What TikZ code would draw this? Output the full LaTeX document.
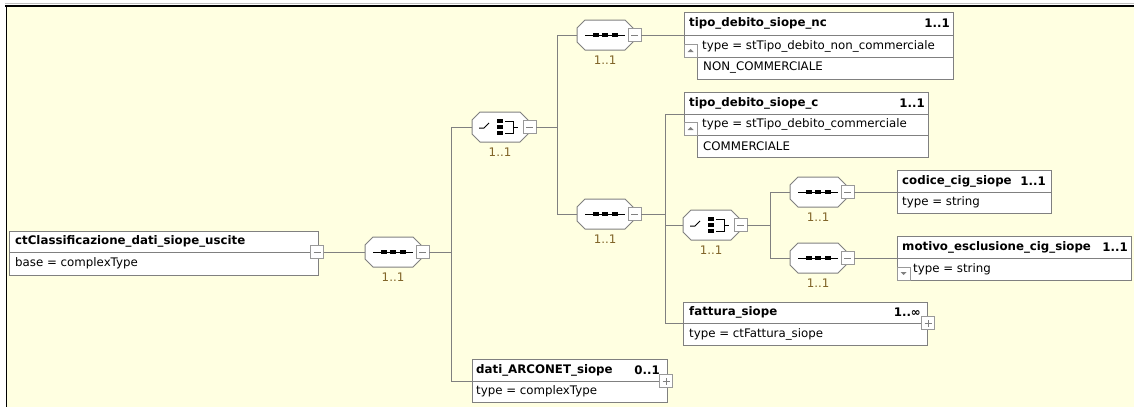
\documentclass[tikz,border=0pt]{standalone}
\usepackage{fontspec}
\setmainfont{DejaVu Sans}
\usetikzlibrary{positioning}

\definecolor{paper}{RGB}{255,255,225}
\definecolor{edge}{RGB}{128,128,128}
\definecolor{occ}{RGB}{128,100,40}
\newcommand\boxfont{\fontsize{11.8}{14}\selectfont}

\tikzset{
	wire/.style={draw=edge, line width=1pt},
	row/.style={rectangle, draw=edge, fill=white, line width=1pt, inner sep=0pt, outer sep=0pt, anchor=north west},
	title/.style={font=\boxfont\bfseries, anchor=west, inner sep=0pt},
	plain/.style={anchor=west, inner sep=0pt},
	mult/.style={font=\boxfont\bfseries, anchor=east, inner sep=0pt},
	occurs/.style={text=occ, inner sep=0pt},
	oct/.style={rectangle, fill=paper, minimum width=57pt, minimum height=31pt, inner sep=0pt, outer sep=0pt},
	octline/.style={edge, fill=white, line width=1pt},
	seqbox/.style={oct, path picture={
		\begin{scope}[shift={(path picture bounding box.center)}, x=1pt, y=1pt]
			\draw[octline] (-20,15) -- (20,15) -- (28,7) -- (28,-7) -- (20,-15) -- (-20,-15) -- (-28,-7) -- (-28,7) -- cycle;
			\draw[black, line width=1pt] (-20,0) -- (20,0);
			\foreach \dx in {-9.5,0,9.5} \fill[black] ({\dx-3},-2) rectangle ++(6,4);
		\end{scope}}},
	choicebox/.style={oct, path picture={
		\begin{scope}[shift={(path picture bounding box.center)}, x=1pt, y=1pt]
			\draw[octline] (-20,15) -- (20,15) -- (28,7) -- (28,-7) -- (20,-15) -- (-20,-15) -- (-28,-7) -- (-28,7) -- cycle;
			\draw[black, line width=1pt] (-21,-1) -- (-16,-1) -- (-11,4);
			\foreach \dy in {6,0,-6} \fill[black] (-3,{\dy-2}) rectangle ++(6,4);
			\draw[black, line width=1pt] (5,6) -- (13,6) -- (13,-6) -- (5,-6) (13,0) -- (18,0);
		\end{scope}}},
	smallbox/.style={rectangle, draw=edge!80, fill=white, line width=1pt, minimum size=13pt, inner sep=0pt, outer sep=0pt},
	fold/.style={smallbox, path picture={
		\begin{scope}[shift={(path picture bounding box.center)}, x=1pt, y=1pt]
			\draw[edge, line width=1pt] (-3.5,0) -- (3.5,0);
		\end{scope}}},
	unfold/.style={smallbox, path picture={
		\begin{scope}[shift={(path picture bounding box.center)}, x=1pt, y=1pt]
			\draw[edge, line width=1pt] (-3.5,0) -- (3.5,0) (0,-3.5) -- (0,3.5);
		\end{scope}}},
	upmark/.style={smallbox, anchor=south west, path picture={
		\begin{scope}[shift={(path picture bounding box.center)}, x=1pt, y=1pt]
			\fill[edge] (-3,-1.5) -- (3,-1.5) -- (0,1.5) -- cycle;
		\end{scope}}},
	downmark/.style={smallbox, anchor=south west, path picture={
		\begin{scope}[shift={(path picture bounding box.center)}, x=1pt, y=1pt]
			\fill[edge] (-3,1.5) -- (3,1.5) -- (0,-1.5) -- cycle;
		\end{scope}}},
}

\begin{document}
\begin{tikzpicture}[x=1pt, y=-1pt, font=\boxfont]
	%%%%% START %%%%%

	\useasboundingbox (0,0) rectangle (1134,407);
	\fill[white] (0,0) rectangle (1134,407);
	\fill[paper] (7,7) rectangle (1134,407);
	\draw[black!25, line width=1pt] (5,3.5) -- (1134,3.5);
	\draw[black, line width=2pt] (5,6) -- (1134,6);
	\draw[black, line width=1.5pt] (6.5,5) -- (6.5,407);

	% root type
	\node[row, minimum width=309pt, minimum height=21pt] (ct) at (9,231) {};
	\node[row, minimum width=309pt, minimum height=23pt] (ct-t) at (ct.south west) {};
	\node[title] (ct-n) at ([xshift=6pt]ct.west) {ctClassificazione\_dati\_siope\_uscite};
	\node[plain] (ct-b) at ([xshift=6pt]ct-t.west) {base = complexType};
	\node[fold] (ct-f) at ([xshift=-1pt]ct.south east) {};

	% compositors
	\node[seqbox] (s0) at (393,252) {};
	\node[fold] (s0-f) at ([xshift=1pt]s0.east) {};
	\node[occurs, below=5pt of s0] (s0-o) {1..1};

	\node[choicebox] (c1) at (500,127) {};
	\node[fold] (c1-f) at ([xshift=1pt]c1.east) {};
	\node[occurs, below=5pt of c1] (c1-o) {1..1};

	\node[seqbox] (s1) at (605,35) {};
	\node[fold] (s1-f) at ([xshift=1pt]s1.east) {};
	\node[occurs, below=5pt of s1] (s1-o) {1..1};

	\node[seqbox] (s2) at (605,214) {};
	\node[fold] (s2-f) at ([xshift=1pt]s2.east) {};
	\node[occurs, below=5pt of s2] (s2-o) {1..1};

	\node[choicebox] (c2) at (711,225) {};
	\node[fold] (c2-f) at ([xshift=1pt]c2.east) {};
	\node[occurs, below=5pt of c2] (c2-o) {1..1};

	\node[seqbox] (s3) at (818,192) {};
	\node[fold] (s3-f) at ([xshift=1pt]s3.east) {};
	\node[occurs, below=5pt of s3] (s3-o) {1..1};

	\node[seqbox] (s4) at (818,258) {};
	\node[fold] (s4-f) at ([xshift=1pt]s4.east) {};
	\node[occurs, below=5pt of s4] (s4-o) {1..1};

	% tipo_debito_siope_nc
	\node[row, minimum width=269pt, minimum height=23pt] (nc) at (684,12) {};
	\node[row, minimum width=269pt, minimum height=22pt] (nc-t) at (nc.south west) {};
	\node[row, minimum width=256pt, minimum height=22pt] (nc-e) at ([xshift=13pt]nc-t.south west) {};
	\node[upmark] (nc-h) at (nc-t.south west) {};
	\node[title] (nc-n) at ([xshift=5pt]nc.west) {tipo\_debito\_siope\_nc};
	\node[mult] (nc-m) at ([xshift=-3pt]nc.east) {1..1};
	\node[plain] (nc-y) at ([xshift=18pt]nc-t.west) {type = stTipo\_debito\_non\_commerciale};
	\node[plain] (nc-v) at ([xshift=6pt]nc-e.west) {NON\_COMMERCIALE};

	% tipo_debito_siope_c
	\node[row, minimum width=244pt, minimum height=22pt] (tc) at (684,92) {};
	\node[row, minimum width=244pt, minimum height=21pt] (tc-t) at (tc.south west) {};
	\node[row, minimum width=231pt, minimum height=22pt] (tc-e) at ([xshift=13pt]tc-t.south west) {};
	\node[upmark] (tc-h) at (tc-t.south west) {};
	\node[title] (tc-n) at ([xshift=5pt]tc.west) {tipo\_debito\_siope\_c};
	\node[mult] (tc-m) at ([xshift=-3pt]tc.east) {1..1};
	\node[plain] (tc-y) at ([xshift=18pt]tc-t.west) {type = stTipo\_debito\_commerciale};
	\node[plain] (tc-v) at ([xshift=6pt]tc-e.west) {COMMERCIALE};

	% codice_cig_siope
	\node[row, minimum width=154pt, minimum height=22pt] (cg) at (897,170) {};
	\node[row, minimum width=154pt, minimum height=21pt] (cg-t) at (cg.south west) {};
	\node[title] (cg-n) at ([xshift=5pt]cg.west) {codice\_cig\_siope};
	\node[mult] (cg-m) at ([xshift=-5pt]cg.east) {1..1};
	\node[plain] (cg-y) at ([xshift=5pt]cg-t.west) {type = string};

	% motivo_esclusione_cig_siope
	\node[row, minimum width=234pt, minimum height=22pt] (mo) at (897,236) {};
	\node[row, minimum width=234pt, minimum height=22pt] (mo-t) at (mo.south west) {};
	\node[downmark] (mo-h) at (mo-t.south west) {};
	\node[title] (mo-n) at ([xshift=5pt]mo.west) {motivo\_esclusione\_cig\_siope};
	\node[mult] (mo-m) at ([xshift=-3pt]mo.east) {1..1};
	\node[plain] (mo-y) at ([xshift=16pt]mo-t.west) {type = string};

	% fattura_siope
	\node[row, minimum width=244pt, minimum height=21pt] (fs) at (683,302) {};
	\node[row, minimum width=244pt, minimum height=22pt] (fs-t) at (fs.south west) {};
	\node[title] (fs-n) at ([xshift=6pt]fs.west) {fattura\_siope};
	\node[mult] (fs-m) at ([xshift=-6pt]fs.east) {1..∞};
	\node[plain] (fs-y) at ([xshift=6pt]fs-t.west) {type = ctFattura\_siope};
	\node[unfold] (fs-f) at ([xshift=1pt]fs.south east) {};

	% dati_ARCONET_siope
	\node[row, minimum width=195pt, minimum height=22pt] (da) at (472,359) {};
	\node[row, minimum width=195pt, minimum height=21pt] (da-t) at (da.south west) {};
	\node[title] (da-n) at ([xshift=4pt]da.west) {dati\_ARCONET\_siope};
	\node[mult] (da-m) at ([xshift=-7pt]da.east) {0..1};
	\node[plain] (da-y) at ([xshift=4pt]da-t.west) {type = complexType};
	\node[unfold] (da-f) at ([xshift=-1pt]da.south east) {};

	% connectors
	\coordinate (t0) at (451,0);
	\coordinate (t1) at (557,0);
	\coordinate (t2) at (665,0);
	\coordinate (t3) at (770,0);

	\draw[wire] (ct-f.east) -- (ct-f.east -| s0.west);
	\draw[wire] (s0-f.east) -- (s0-f.east -| t0);
	\draw[wire] (c1.west) -- (c1.west -| t0) -- (da.south west -| t0) -- (da.south west);
	\draw[wire] (c1-f.east) -- (c1-f.east -| t1);
	\draw[wire] (s1.west) -- (s1.west -| t1) -- (s2.west -| t1) -- (s2.west);
	\draw[wire] (s1-f.east) -- (nc.south west);
	\draw[wire] (s2-f.east) -- (s2-f.east -| t2);
	\draw[wire] (tc.south west) -- (tc.south west -| t2) -- (fs.south west -| t2) -- (fs.south west);
	\draw[wire] (c2.west -| t2) -- (c2.west);
	\draw[wire] (c2-f.east) -- (c2-f.east -| t3);
	\draw[wire] (s3.west) -- (s3.west -| t3) -- (s4.west -| t3) -- (s4.west);
	\draw[wire] (s3-f.east) -- (cg.south west);
	\draw[wire] (s4-f.east) -- (mo.south west);

	%%%%% END %%%%%
\end{tikzpicture}
\end{document}
